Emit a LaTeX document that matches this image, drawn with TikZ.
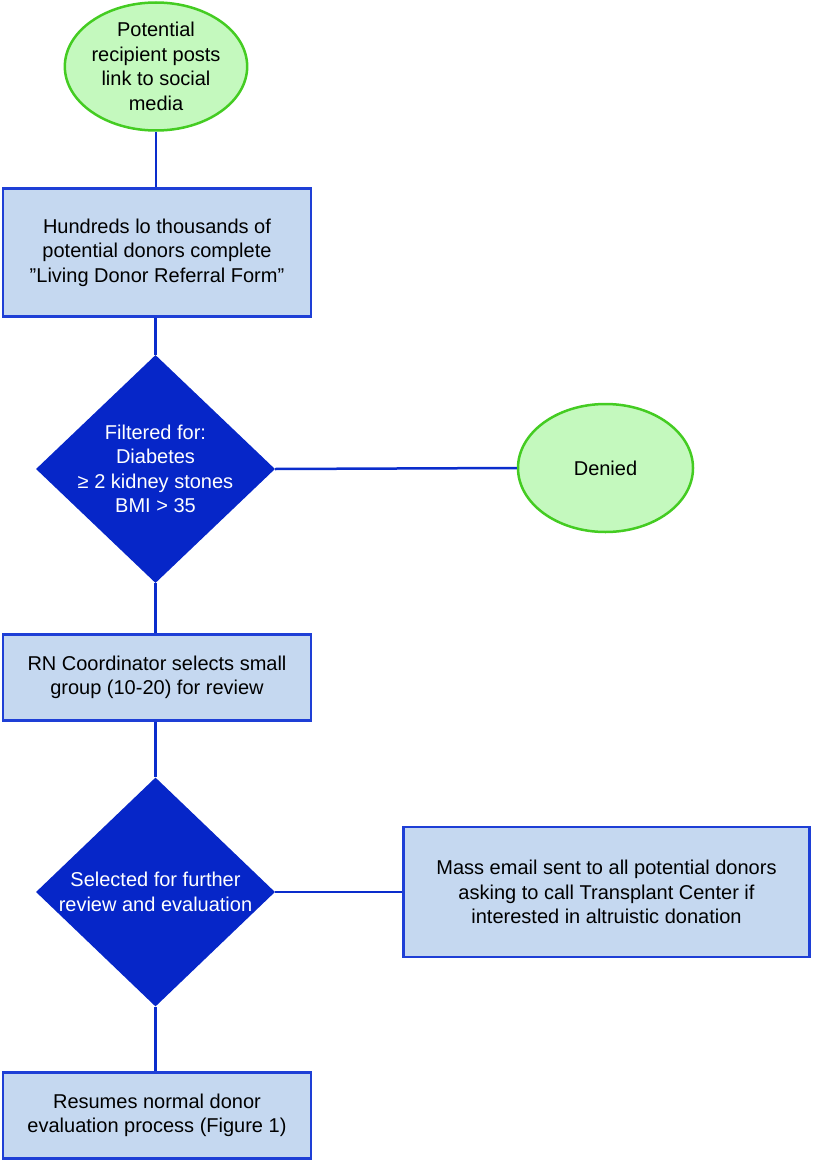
\documentclass[tikz,border=0pt]{standalone}
\usepackage{fontspec}
\setmainfont{Liberation Sans}
\usetikzlibrary{shapes.geometric}
\definecolor{gfill}{HTML}{C4F9BE}
\definecolor{gline}{HTML}{44CC22}
\definecolor{bfill}{HTML}{C5D8F0}
\definecolor{bline}{HTML}{1E3FD6}
\definecolor{dfill}{HTML}{0626C8}
\definecolor{cline}{HTML}{0A2DCC}
\tikzset{
  base/.style={inner sep=0pt, align=center, font=\fontsize{20}{24.5}\selectfont},
  oval/.style={base, ellipse, draw=gline, fill=gfill, line width=2.5pt, text=black},
  box/.style={base, rectangle, draw=bline, fill=bfill, line width=2.5pt, text=black},
  dia/.style={base, diamond, fill=dfill, draw=none},
  diatext/.style={base, text=white},
  conn/.style={draw=cline, line width=2.5pt}
}
\begin{document}
\begin{tikzpicture}[x=1pt,y=-1pt]
\useasboundingbox (0,0) rectangle (812,1161);
\node[oval, minimum width=174pt, minimum height=128pt] (start) at (156,66.5)
  {Potential\\recipient posts\\link to social\\media};
\node[box, minimum width=308pt, minimum height=128pt] (form) at (157,252.5)
  {Hundreds lo thousands of\\potential donors complete\\''Living Donor Referral Form''};
\node[dia, minimum width=239pt, minimum height=228pt] (filter) at (155.5,469) {};
\node[diatext] (filtertext) at (filter.center)
  {Filtered for:\\Diabetes\\≥ 2 kidney stones\\BMI > 35};
\node[oval, minimum width=175pt, minimum height=128pt] (denied) at (605.5,468) {Denied};
\node[box, minimum width=308pt, minimum height=86pt] (rn) at (157,677.5)
  {RN Coordinator selects small\\group (10-20) for review};
\node[dia, minimum width=239pt, minimum height=229pt] (sel) at (155.5,892) {};
\node[diatext] (seltext) at (sel.center)
  {Selected for further\\review and evaluation};
\node[box, minimum width=406pt, minimum height=130pt] (mass) at (606.5,892)
  {Mass email sent to all potential donors\\asking to call Transplant Center if\\interested in altruistic donation};
\node[box, minimum width=308pt, minimum height=86pt] (res) at (157,1115.5)
  {Resumes normal donor\\evaluation process (Figure 1)};
\draw[conn] (start.south) -- (start.south |- form.north);
\draw[conn] (form.south -| filter.north) -- (filter.north);
\draw[conn] (filter.east) -- (denied.west);
\draw[conn] (filter.south) -- (filter.south |- rn.north);
\draw[conn] (rn.south -| sel.north) -- (sel.north);
\draw[conn] (sel.east) -- (mass.west);
\draw[conn] (sel.south) -- (sel.south |- res.north);
\end{tikzpicture}
\end{document}
